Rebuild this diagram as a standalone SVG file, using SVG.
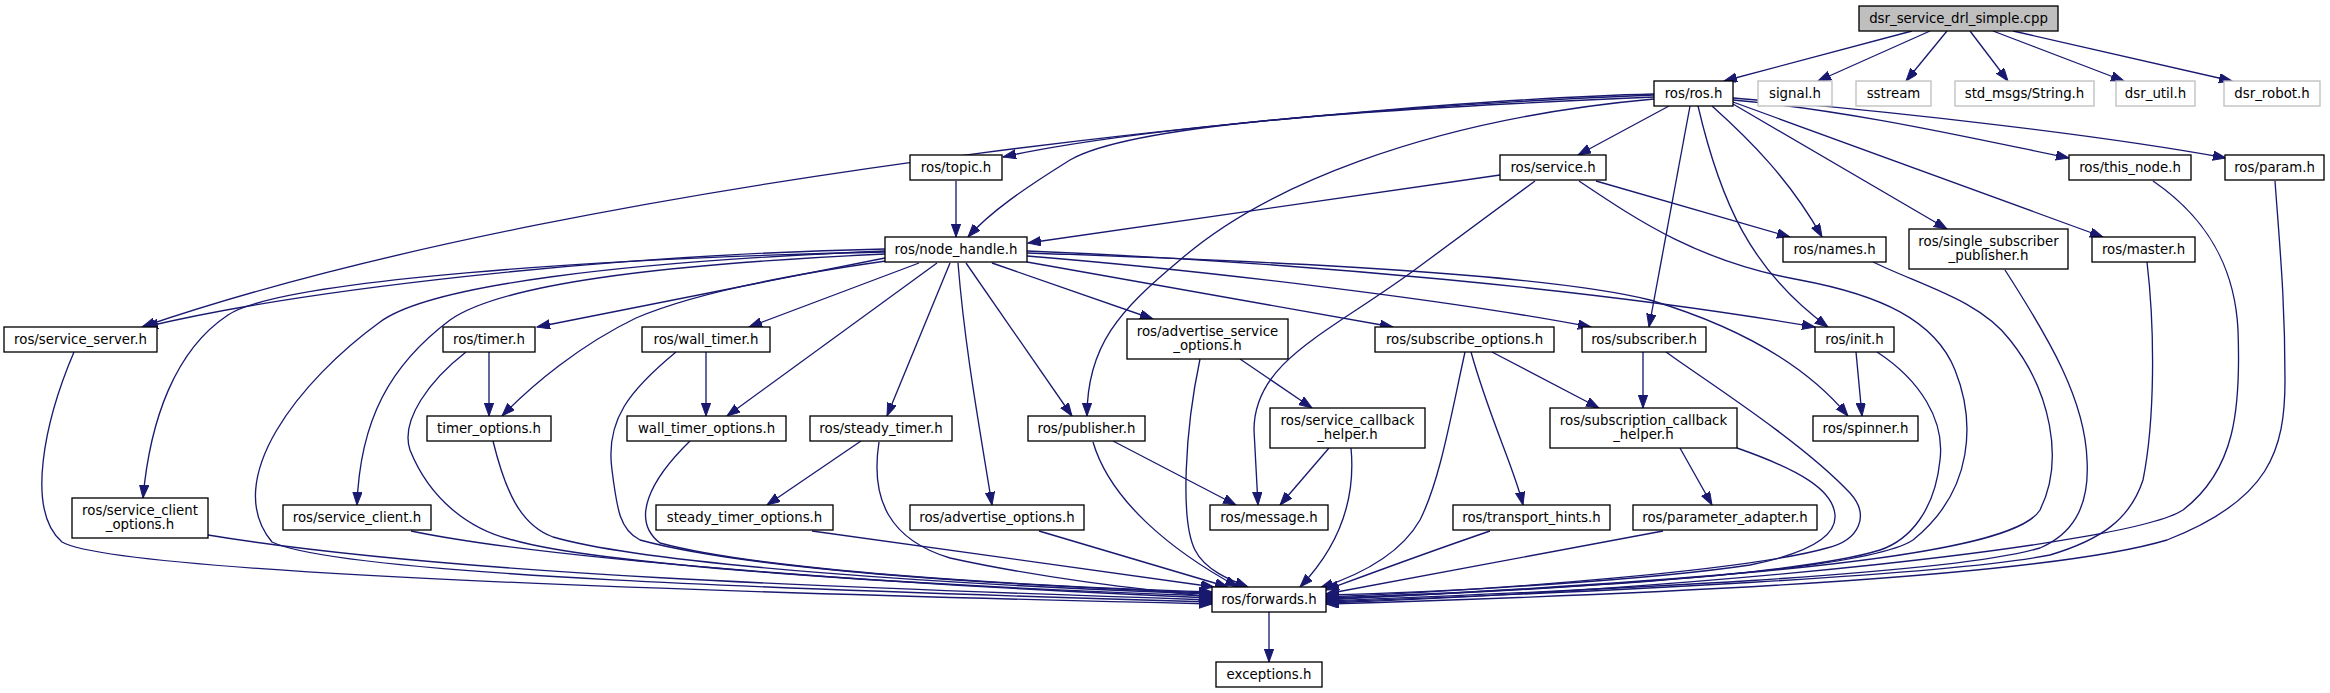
<svg xmlns="http://www.w3.org/2000/svg" width="2330" height="693" viewBox="0 0 2330 693">
<style>
.n rect{fill:#fff;stroke:#000;stroke-width:1.33}
.n.g rect{stroke:#bfbfbf}
.n.top rect{fill:#bfbfbf}
.e path{fill:none;stroke:#191970;stroke-width:1.33;marker-end:url(#a)}
text{font-family:"DejaVu Sans",sans-serif;font-size:13.33px;text-anchor:middle;fill:#000}
</style>
<defs>
<marker id="a" markerUnits="userSpaceOnUse" markerWidth="15" markerHeight="11" refX="13" refY="4.65" orient="auto"><path d="M0,0L13,4.65L0,9.3z" fill="#191970" stroke="#191970" stroke-width="1"/></marker>
</defs>
<rect width="2330" height="693" fill="#fff"/>
<g class="e" id="edges">
<path d="M1912,31 L1724,81"/>
<path d="M1930,31 L1818,81"/>
<path d="M1947,31 L1906,81"/>
<path d="M1970,31 L2008,81"/>
<path d="M1993,31 L2124,81"/>
<path d="M2013,31 L2232,81"/>
<path d="M1654,95 C1450,103 1150,125 1003,157"/>
<path d="M1654,97 C1350,110 1130,125 1070,160 C1025,188 990,212 968,237"/>
<path d="M1654,94 C1400,100 600,170 142,327"/>
<path d="M1669,106 L1578,155"/>
<path d="M1654,99 C1420,120 1260,190 1180,260 C1120,310 1087,345 1087,416"/>
<path d="M1690,106 L1649,327"/>
<path d="M1698,106 C1720,200 1750,270 1828,327"/>
<path d="M1712,106 C1750,140 1790,180 1822,237"/>
<path d="M1733,104 L1947,229"/>
<path d="M1733,102 L2103,237"/>
<path d="M1733,100 C1850,110 1980,140 2069,158"/>
<path d="M1733,98 C1900,112 2100,135 2226,158"/>
<path d="M956,181 L956,237"/>
<path d="M1500,175 L1028,243"/>
<path d="M1596,181 L1790,237"/>
<path d="M1535,181 L1420,266 C1330,333 1254,360 1254,430 L1258,505"/>
<path d="M1579,181 C1640,222 1700,262 1800,280 C1880,295 1935,320 1955,370 C1975,420 1975,490 1913,540 C1860,575 1500,592 1326,599"/>
<path d="M885,249 C600,255 300,290 145,327"/>
<path d="M885,252 C600,258 280,280 228,315 C175,350 150,420 143,498"/>
<path d="M885,251 C620,262 430,285 380,322 C300,380 220,480 272,542 C340,575 800,590 1212,602"/>
<path d="M885,254 C650,265 500,285 450,320 C390,365 360,420 357,505"/>
<path d="M885,258 L537,327"/>
<path d="M886,261 C780,276 690,295 636,318 C580,345 532,385 502,416"/>
<path d="M919,263 L749,327"/>
<path d="M937,263 L727,416"/>
<path d="M950,263 L887,416"/>
<path d="M958,263 C965,350 980,430 992,505"/>
<path d="M966,263 L1072,416"/>
<path d="M992,263 L1153,319"/>
<path d="M1027,262 L1393,327"/>
<path d="M1027,256 C1200,270 1450,300 1591,327"/>
<path d="M1027,251 C1300,262 1600,290 1815,327"/>
<path d="M1027,253 C1300,262 1550,275 1650,300 C1750,330 1810,370 1848,416"/>
<path d="M1856,352 L1862,416"/>
<path d="M1877,352 C1920,380 1945,420 1940,460 C1935,510 1910,540 1880,550 C1800,575 1550,590 1326,598"/>
<path d="M1643,352 L1643,408"/>
<path d="M1666,352 C1700,377 1800,440 1850,493 C1870,515 1860,540 1827,548 C1750,570 1500,590 1326,597"/>
<path d="M1492,352 L1599,408"/>
<path d="M1471,352 C1490,420 1515,470 1523,505"/>
<path d="M1465,352 C1450,420 1440,480 1420,520 C1400,555 1360,575 1320,588"/>
<path d="M1680,448 L1712,505"/>
<path d="M1737,448 C1800,470 1833,490 1835,515 C1837,540 1800,555 1750,565 C1650,580 1450,592 1326,595"/>
<path d="M1490,531 C1420,555 1380,570 1326,590"/>
<path d="M1663,531 L1326,594"/>
<path d="M1240,359 L1312,408"/>
<path d="M1200,359 C1185,430 1180,520 1195,550 C1205,570 1230,580 1248,587"/>
<path d="M1329,448 L1280,505"/>
<path d="M1351,448 C1355,490 1345,540 1300,587"/>
<path d="M1113,441 L1236,505"/>
<path d="M1093,442 C1110,500 1170,550 1238,587"/>
<path d="M1039,531 L1228,587"/>
<path d="M861,441 L767,505"/>
<path d="M879,442 C870,500 890,540 950,558 C1050,580 1150,590 1212,597"/>
<path d="M812,531 L1214,587"/>
<path d="M706,352 L706,416"/>
<path d="M676,352 C630,390 605,420 612,470 C617,510 620,530 640,540 C750,570 1000,585 1212,593"/>
<path d="M690,441 C650,480 630,520 660,543 C760,570 1000,585 1212,592"/>
<path d="M489,352 L489,416"/>
<path d="M466,352 C430,380 400,420 410,450 C430,500 470,530 513,540 C600,565 900,585 1212,596"/>
<path d="M493,441 C505,490 520,525 553,537 C650,565 950,585 1212,594"/>
<path d="M411,531 C550,560 900,585 1212,598"/>
<path d="M208,535 C450,575 850,588 1212,600"/>
<path d="M74,352 C45,420 25,510 62,542 C110,570 600,590 1212,604"/>
<path d="M1873,262 C1920,285 1980,300 2010,340 C2050,390 2065,460 2040,510 C2010,560 1700,580 1326,600"/>
<path d="M2005,270 C2050,340 2085,400 2087,460 C2090,510 2070,535 2040,548 C1950,575 1600,590 1326,601"/>
<path d="M2147,262 C2155,330 2155,420 2143,480 C2130,520 2100,540 2050,555 C1950,575 1600,592 1326,602"/>
<path d="M2153,181 C2210,220 2235,270 2238,330 C2241,410 2235,470 2183,510 C2130,545 1700,590 1326,603"/>
<path d="M2275,181 C2280,250 2285,300 2285,380 C2285,450 2270,500 2167,540 C2050,575 1700,593 1326,604"/>
<path d="M1269,612 L1269,662"/>
</g>
<g id="n0" class="n top"><rect x="1859" y="6" width="199" height="25"/><text x="1958.5" y="23">dsr_service_drl_simple.cpp</text></g>
<g id="n1" class="n"><rect x="1654" y="81" width="79" height="25"/><text x="1693.5" y="98">ros/ros.h</text></g>
<g id="n2" class="n g"><rect x="1758" y="81" width="74" height="25"/><text x="1795" y="98">signal.h</text></g>
<g id="n3" class="n g"><rect x="1856" y="81" width="75" height="25"/><text x="1893.5" y="98">sstream</text></g>
<g id="n4" class="n g"><rect x="1955" y="81" width="139" height="25"/><text x="2024.5" y="98">std_msgs/String.h</text></g>
<g id="n5" class="n g"><rect x="2116" y="81" width="79" height="25"/><text x="2155.5" y="98">dsr_util.h</text></g>
<g id="n6" class="n g"><rect x="2224" y="81" width="96" height="25"/><text x="2272" y="98">dsr_robot.h</text></g>
<g id="n7" class="n"><rect x="910" y="155" width="92" height="25"/><text x="956" y="172">ros/topic.h</text></g>
<g id="n8" class="n"><rect x="1500" y="155" width="106" height="25"/><text x="1553" y="172">ros/service.h</text></g>
<g id="n9" class="n"><rect x="2069" y="155" width="122" height="25"/><text x="2130" y="172">ros/this_node.h</text></g>
<g id="n10" class="n"><rect x="2225" y="155" width="99" height="25"/><text x="2274.5" y="172">ros/param.h</text></g>
<g id="n11" class="n"><rect x="885" y="237" width="142" height="25"/><text x="956" y="254">ros/node_handle.h</text></g>
<g id="n12" class="n"><rect x="1783" y="237" width="103" height="25"/><text x="1834.5" y="254">ros/names.h</text></g>
<g id="n13" class="n"><rect x="1909" y="229" width="159" height="40"/><text x="1988.5" y="245.5">ros/single_subscriber</text><text x="1988.5" y="260">_publisher.h</text></g>
<g id="n14" class="n"><rect x="2092" y="237" width="103" height="25"/><text x="2143.5" y="254">ros/master.h</text></g>
<g id="n15" class="n"><rect x="4" y="327" width="153" height="25"/><text x="80.5" y="344">ros/service_server.h</text></g>
<g id="n16" class="n"><rect x="443" y="327" width="92" height="25"/><text x="489" y="344">ros/timer.h</text></g>
<g id="n17" class="n"><rect x="642" y="327" width="128" height="25"/><text x="706" y="344">ros/wall_timer.h</text></g>
<g id="n18" class="n"><rect x="1127" y="319" width="161" height="40"/><text x="1207.5" y="335.5">ros/advertise_service</text><text x="1207.5" y="350">_options.h</text></g>
<g id="n19" class="n"><rect x="1375" y="327" width="179" height="25"/><text x="1464.5" y="344">ros/subscribe_options.h</text></g>
<g id="n20" class="n"><rect x="1582" y="327" width="124" height="25"/><text x="1644" y="344">ros/subscriber.h</text></g>
<g id="n21" class="n"><rect x="1815" y="327" width="79" height="25"/><text x="1854.5" y="344">ros/init.h</text></g>
<g id="n22" class="n"><rect x="427" y="416" width="124" height="25"/><text x="489" y="433">timer_options.h</text></g>
<g id="n23" class="n"><rect x="627" y="416" width="159" height="25"/><text x="706.5" y="433">wall_timer_options.h</text></g>
<g id="n24" class="n"><rect x="810" y="416" width="142" height="25"/><text x="881" y="433">ros/steady_timer.h</text></g>
<g id="n25" class="n"><rect x="1028" y="416" width="117" height="25"/><text x="1086.5" y="433">ros/publisher.h</text></g>
<g id="n26" class="n"><rect x="1270" y="408" width="155" height="40"/><text x="1347.5" y="424.5">ros/service_callback</text><text x="1347.5" y="439">_helper.h</text></g>
<g id="n27" class="n"><rect x="1550" y="408" width="187" height="40"/><text x="1643.5" y="424.5">ros/subscription_callback</text><text x="1643.5" y="439">_helper.h</text></g>
<g id="n28" class="n"><rect x="1813" y="416" width="105" height="25"/><text x="1865.5" y="433">ros/spinner.h</text></g>
<g id="n29" class="n"><rect x="72" y="498" width="136" height="40"/><text x="140" y="514.5">ros/service_client</text><text x="140" y="529">_options.h</text></g>
<g id="n30" class="n"><rect x="283" y="505" width="148" height="25"/><text x="357" y="522">ros/service_client.h</text></g>
<g id="n31" class="n"><rect x="656" y="505" width="177" height="25"/><text x="744.5" y="522">steady_timer_options.h</text></g>
<g id="n32" class="n"><rect x="910" y="505" width="174" height="25"/><text x="997" y="522">ros/advertise_options.h</text></g>
<g id="n33" class="n"><rect x="1210" y="505" width="118" height="25"/><text x="1269" y="522">ros/message.h</text></g>
<g id="n34" class="n"><rect x="1453" y="505" width="157" height="25"/><text x="1531.5" y="522">ros/transport_hints.h</text></g>
<g id="n35" class="n"><rect x="1633" y="505" width="184" height="25"/><text x="1725" y="522">ros/parameter_adapter.h</text></g>
<g id="n36" class="n"><rect x="1212" y="587" width="114" height="25"/><text x="1269" y="604">ros/forwards.h</text></g>
<g id="n37" class="n"><rect x="1216" y="662" width="106" height="25"/><text x="1269" y="679">exceptions.h</text></g>
</svg>
